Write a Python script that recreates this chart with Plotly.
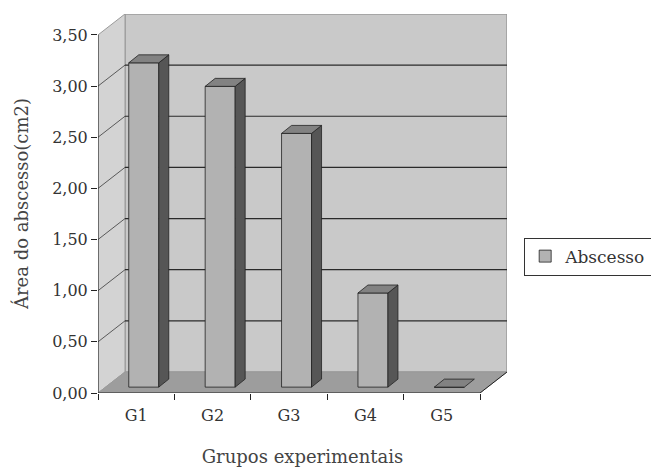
import plotly.graph_objects as go

# ---- data ----
categories = ["G1", "G2", "G3", "G4", "G5"]
values = [3.17, 2.94, 2.48, 0.92, 0.0]
y_ticks = [0, 0.5, 1.0, 1.5, 2.0, 2.5, 3.0, 3.5]
y_ticktext = ["0,00", "0,50", "1,00", "1,50", "2,00", "2,50", "3,00", "3,50"]
series_name = "Abscesso"

# ---- pseudo-3D geometry (in axis units) ----
PX_X = 76.4    # px per category
PX_Y = 102.3   # px per value unit
DX = 27 / PX_X     # wall depth offset (x)
DY = 21 / PX_Y     # wall depth offset (y)
F1 = 0.28          # depth fraction of bar front plane
BDX = 10 / PX_X    # bar depth (x)
BDY = 8 / PX_Y     # bar depth (y)
BW = 30 / PX_X     # bar width
YMAX = 3.5
n = len(categories)
xr = [-0.5, n - 0.5 + DX]
yr = [0, 379 / PX_Y]

FONT = "DejaVu Serif"
fig = go.Figure()

xs = list(range(n))
base = F1 * DY
front_x = [i + F1 * DX for i in xs]

# side faces
for i, v in enumerate(values):
    x1 = front_x[i] + BW / 2
    if v > 0:
        fig.add_trace(go.Scatter(
            x=[x1, x1, x1 + BDX, x1 + BDX, x1],
            y=[base, base + v, base + v + BDY, base + BDY, base],
            fill="toself", fillcolor="#565656", mode="lines",
            line=dict(color="#222", width=0.8), showlegend=False, hoverinfo="skip"))

# front faces
fig.add_trace(go.Bar(
    x=front_x, y=values, base=base, width=BW, name=series_name,
    marker=dict(color="#b2b2b2", line=dict(color="#222", width=0.8)),
    showlegend=True))

# top faces
for i, v in enumerate(values):
    x0 = front_x[i] - BW / 2
    x1 = front_x[i] + BW / 2
    t = base + v
    fig.add_trace(go.Scatter(
        x=[x0, x1, x1 + BDX, x0 + BDX, x0],
        y=[t, t, t + BDY, t + BDY, t],
        fill="toself", fillcolor="#828282", mode="lines",
        line=dict(color="#222", width=0.8), showlegend=False, hoverinfo="skip"))

shapes = []
x0, x1 = -0.5, n - 0.5
# back wall
shapes.append(dict(type="rect", xref="x", yref="y", x0=x0 + DX, x1=x1 + DX, y0=DY, y1=YMAX + DY,
                   fillcolor="#c9c9c9", line=dict(color="#9a9a9a", width=1.5), layer="below"))
# left wall
shapes.append(dict(type="path", xref="x", yref="y",
                   path=f"M {x0},0 L {x0},{YMAX} L {x0+DX},{YMAX+DY} L {x0+DX},{DY} Z",
                   fillcolor="#d3d3d3", line=dict(color="#9a9a9a", width=1), layer="below"))
# floor
shapes.append(dict(type="path", xref="x", yref="y",
                   path=f"M {x0},0 L {x1},0 L {x1+DX},{DY} L {x0+DX},{DY} Z",
                   fillcolor="#9d9d9d", line=dict(color="#9a9a9a", width=1), layer="below"))
# gridlines
for v in y_ticks[1:-1]:
    shapes.append(dict(type="line", xref="x", yref="y", x0=x0 + DX, x1=x1 + DX, y0=v + DY, y1=v + DY,
                       line=dict(color="#2a2a2a", width=1.2), layer="below"))
    shapes.append(dict(type="line", xref="x", yref="y", x0=x0, x1=x0 + DX, y0=v, y1=v + DY,
                       line=dict(color="#3a3a3a", width=0.8), layer="below"))
# floor side edge and front axes
shapes.append(dict(type="line", xref="x", yref="y", x0=x1, x1=x1 + DX, y0=0, y1=DY,
                   line=dict(color="#222", width=1)))
shapes.append(dict(type="line", xref="x", yref="y", x0=x0, x1=x1, y0=0, y1=0,
                   line=dict(color="#222", width=1)))
shapes.append(dict(type="line", xref="x", yref="y", x0=x0, x1=x0, y0=0, y1=YMAX,
                   line=dict(color="#222", width=1)))

fig.update_layout(
    width=651, height=470,
    margin=dict(l=98, r=144, t=14, b=77, autoexpand=False),
    paper_bgcolor="white", plot_bgcolor="rgba(0,0,0,0)",
    shapes=shapes,
    barmode="overlay",
    font=dict(family=FONT, color="#333", size=16),
    xaxis=dict(range=xr, tickvals=xs, ticktext=categories, showgrid=False, zeroline=False,
               showline=False, ticks="", automargin=False, ticklabelstandoff=11,
               tickfont=dict(size=16, family=FONT, color="#333"),
               minor=dict(tick0=0.5, dtick=1, ticks="outside", ticklen=6, tickcolor="#222"),
               title=dict(text="Grupos experimentais", font=dict(size=18, family=FONT, color="#444"),
                          standoff=26)),
    yaxis=dict(range=yr, tickvals=y_ticks, ticktext=y_ticktext, showgrid=False, zeroline=False,
               showline=False, ticks="outside", ticklen=6, tickcolor="#222", automargin=False,
               tickfont=dict(size=16, family=FONT, color="#333"),
               title=dict(text="Área do abscesso(cm2)", font=dict(size=18, family=FONT, color="#444"),
                          standoff=18)),
    legend=dict(x=1.042, y=0.36, xanchor="left", yanchor="middle",
                bordercolor="#333", borderwidth=1, bgcolor="white",
                font=dict(size=17, family=FONT, color="#333"),
                itemwidth=30),
)

fig.write_html("out.html")
